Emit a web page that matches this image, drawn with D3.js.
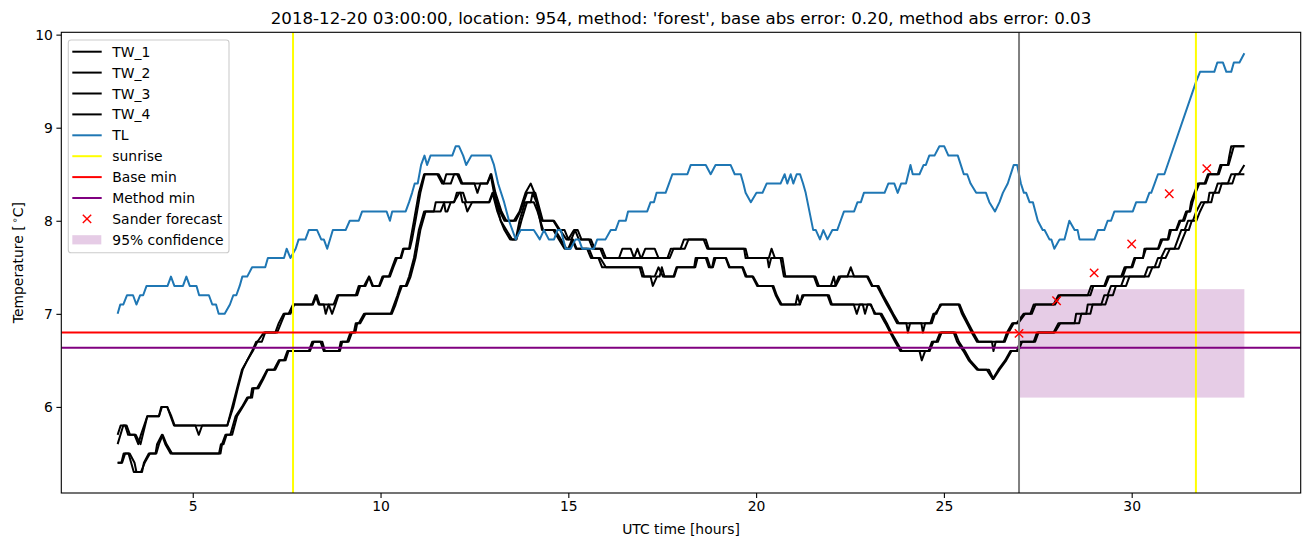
<!DOCTYPE html>
<html><head><meta charset="utf-8">
<script src="https://cdn.jsdelivr.net/npm/d3@7"></script>
<style>body{margin:0;background:#fff}svg{display:block}text{font-family:"DejaVu Sans",sans-serif;fill:#000}</style>
</head><body><svg id="c" width="1310" height="547"></svg>
<script>
// ---------- data (hour, °C) ----------
const tw1 = [[3.0,5.6],[3.15,5.8],[3.24,5.8],[3.33,5.7],[3.48,5.7],[3.61,5.6],[3.79,5.9],[4.1,5.9],[4.16,6.0],[4.32,6.0],[4.41,5.9],[4.5,5.8],[5.07,5.8],[5.16,5.7],[5.25,5.8],[5.92,5.8],[6.05,6.0],[6.18,6.2],[6.31,6.4],[6.45,6.5],[6.58,6.6],[6.69,6.7],[6.84,6.7],[6.93,6.8],[7.2,6.8],[7.29,6.9],[7.42,7.0],[7.55,7.0],[7.67,7.1],[8.18,7.1],[8.27,7.2],[8.35,7.1],[8.49,7.1],[8.54,7.0],[8.62,7.1],[8.75,7.1],[8.85,7.2],[9.34,7.2],[9.42,7.3],[9.56,7.3],[9.69,7.4],[9.78,7.3],[9.96,7.3],[10.05,7.4],[10.22,7.4],[10.31,7.5],[10.4,7.6],[10.53,7.6],[10.6,7.7],[10.76,7.7],[10.8,7.8],[10.89,8.0],[11.02,8.3],[11.16,8.5],[11.51,8.5],[11.64,8.4],[11.87,8.4],[11.96,8.5],[12.04,8.5],[12.15,8.4],[12.84,8.4],[12.93,8.5],[13.02,8.3],[13.18,8.1],[13.3,8.0],[13.55,8.0],[13.7,8.1],[13.86,8.3],[14.0,8.4],[14.1,8.3],[14.3,8.0],[14.6,8.0],[14.75,7.9],[14.9,7.9],[15.0,7.8],[15.15,7.9],[15.25,7.9],[15.35,7.8],[15.55,7.8],[15.65,7.7],[15.85,7.7],[15.95,7.6],[16.35,7.6],[16.44,7.7],[16.66,7.7],[16.75,7.6],[16.84,7.7],[16.93,7.6],[17.64,7.6],[17.73,7.7],[17.99,7.7],[18.08,7.8],[18.66,7.8],[18.74,7.7],[19.68,7.7],[19.72,7.6],[20.34,7.6],[20.41,7.7],[20.5,7.6],[20.65,7.6],[20.74,7.4],[21.54,7.4],[21.63,7.3],[21.99,7.3],[22.07,7.4],[22.12,7.3],[22.25,7.4],[22.43,7.4],[22.52,7.5],[22.61,7.4],[22.95,7.4],[23.08,7.3],[23.22,7.3],[23.35,7.2],[23.48,7.1],[23.62,7.0],[23.75,6.9],[24.0,6.9],[24.04,6.8],[24.1,6.9],[24.4,6.9],[24.44,6.8],[24.5,6.9],[24.64,6.9],[24.72,7.0],[24.8,7.0],[24.9,7.1],[25.39,7.1],[25.48,7.0],[25.61,6.9],[25.74,6.8],[25.88,6.7],[26.28,6.7],[26.32,6.6],[26.38,6.7],[26.59,6.7],[26.68,6.8],[26.82,6.9],[26.94,6.9],[27.12,7.0],[27.3,7.0],[27.39,7.1],[27.92,7.1],[28.05,7.2],[28.83,7.2],[28.92,7.3],[29.27,7.3],[29.36,7.4],[29.72,7.4],[29.81,7.5],[29.99,7.5],[30.07,7.6],[30.3,7.6],[30.34,7.7],[30.7,7.7],[30.78,7.8],[30.96,7.8],[31.01,7.9],[31.18,7.9],[31.27,8.0],[31.36,8.0],[31.45,8.1],[31.54,8.1],[31.58,8.2],[31.67,8.3],[31.76,8.4],[31.94,8.4],[32.03,8.5],[32.29,8.5],[32.36,8.6],[32.56,8.6],[32.6,8.7],[32.65,8.8],[33.0,8.8]];
const tw2 = [[3.0,5.7],[3.08,5.8],[3.2,5.8],[3.28,5.7],[3.45,5.7],[3.55,5.6],[3.62,5.7],[3.79,5.9],[4.1,5.9],[4.18,6.0],[4.32,6.0],[4.43,5.9],[4.52,5.8],[5.92,5.8],[6.08,6.0],[6.2,6.2],[6.33,6.4],[6.45,6.5],[6.6,6.6],[6.72,6.7],[6.9,6.8],[7.25,6.8],[7.35,6.9],[7.45,7.0],[7.6,7.0],[7.7,7.1],[8.2,7.1],[8.3,7.2],[8.38,7.1],[8.62,7.1],[8.71,7.0],[8.8,7.1],[8.88,7.2],[9.38,7.2],[9.46,7.3],[9.6,7.3],[9.7,7.4],[9.8,7.3],[9.98,7.3],[10.08,7.4],[10.25,7.4],[10.34,7.5],[10.44,7.6],[10.55,7.6],[10.62,7.7],[10.78,7.7],[10.84,7.8],[10.93,8.0],[11.06,8.3],[11.18,8.5],[11.55,8.5],[11.68,8.4],[11.75,8.5],[12.08,8.5],[12.18,8.4],[12.5,8.4],[12.58,8.3],[12.66,8.4],[12.84,8.4],[12.95,8.5],[13.06,8.3],[13.22,8.1],[13.35,8.0],[13.6,8.0],[13.72,8.1],[13.9,8.3],[14.12,8.3],[14.32,8.0],[14.62,8.0],[14.78,7.9],[14.95,7.8],[15.08,7.8],[15.18,7.9],[15.28,7.8],[15.6,7.8],[15.7,7.7],[15.9,7.7],[16.0,7.6],[16.95,7.6],[17.05,7.7],[17.3,7.7],[17.4,7.6],[17.7,7.6],[17.8,7.7],[18.1,7.7],[18.2,7.8],[18.6,7.8],[18.7,7.7],[19.72,7.7],[19.78,7.6],[20.3,7.6],[20.34,7.5],[20.4,7.6],[20.7,7.6],[20.78,7.4],[21.58,7.4],[21.67,7.3],[22.1,7.3],[22.2,7.4],[22.98,7.4],[23.1,7.3],[23.26,7.3],[23.38,7.2],[23.52,7.1],[23.65,7.0],[23.8,6.9],[24.68,6.9],[24.76,7.0],[24.94,7.1],[25.42,7.1],[25.52,7.0],[25.65,6.9],[25.78,6.8],[25.92,6.7],[26.62,6.7],[26.72,6.8],[26.86,6.9],[26.98,6.9],[27.16,7.0],[27.34,7.0],[27.44,7.1],[27.96,7.1],[28.1,7.2],[28.9,7.2],[28.98,7.3],[29.3,7.3],[29.4,7.4],[29.76,7.4],[29.85,7.5],[30.02,7.5],[30.1,7.6],[30.3,7.6],[30.38,7.7],[30.72,7.7],[30.82,7.8],[30.98,7.8],[31.05,7.9],[31.2,7.9],[31.3,8.0],[31.4,8.0],[31.48,8.1],[31.56,8.1],[31.62,8.2],[31.7,8.3],[31.8,8.4],[31.97,8.4],[32.06,8.5],[32.32,8.5],[32.4,8.6],[32.58,8.6],[32.65,8.7],[32.72,8.8],[33.0,8.8]];
const tw3 = [[3.0,5.4],[3.1,5.4],[3.16,5.5],[3.29,5.5],[3.43,5.3],[3.65,5.3],[3.7,5.4],[3.83,5.5],[4.01,5.5],[4.05,5.6],[4.18,5.7],[4.27,5.6],[4.41,5.5],[5.74,5.5],[5.78,5.6],[5.87,5.7],[6.0,5.7],[6.14,5.9],[6.31,6.0],[6.45,6.1],[6.54,6.1],[6.58,6.2],[6.71,6.2],[6.85,6.3],[6.98,6.4],[7.16,6.4],[7.29,6.5],[7.43,6.5],[7.52,6.6],[8.09,6.6],[8.18,6.7],[8.4,6.7],[8.49,6.6],[8.89,6.6],[8.94,6.7],[9.11,6.7],[9.2,6.8],[9.29,6.8],[9.34,6.9],[9.42,6.9],[9.56,7.0],[10.27,7.0],[10.36,7.1],[10.45,7.2],[10.53,7.3],[10.67,7.3],[10.76,7.4],[10.89,7.6],[11.02,7.9],[11.16,8.1],[11.42,8.1],[11.47,8.2],[11.69,8.2],[11.73,8.1],[11.78,8.1],[11.87,8.2],[11.96,8.2],[12.03,8.3],[12.13,8.3],[12.18,8.2],[12.24,8.2],[12.31,8.1],[12.44,8.2],[12.89,8.2],[12.98,8.3],[13.11,8.1],[13.2,8.0],[13.3,7.9],[13.45,7.8],[13.6,7.8],[13.7,8.0],[13.85,8.2],[14.0,8.2],[14.05,8.3],[14.15,8.2],[14.3,7.9],[14.6,7.9],[14.75,7.8],[14.9,7.7],[15.0,7.7],[15.1,7.8],[15.2,7.7],[15.5,7.7],[15.6,7.6],[15.85,7.6],[16.0,7.5],[16.9,7.5],[16.97,7.4],[17.19,7.4],[17.25,7.3],[17.36,7.4],[17.43,7.4],[17.49,7.5],[17.56,7.4],[17.82,7.4],[17.9,7.5],[18.35,7.5],[18.39,7.6],[18.66,7.6],[18.74,7.5],[18.83,7.5],[18.88,7.6],[19.19,7.6],[19.28,7.5],[19.63,7.5],[19.72,7.4],[19.9,7.4],[20.03,7.3],[20.43,7.3],[20.52,7.2],[20.65,7.1],[21.05,7.1],[21.1,7.2],[21.17,7.1],[21.23,7.2],[21.9,7.2],[21.99,7.1],[22.6,7.1],[22.68,7.0],[22.76,7.1],[22.84,7.1],[22.9,7.0],[22.97,7.1],[23.06,7.1],[23.15,7.0],[23.3,7.0],[23.44,6.9],[23.57,6.8],[23.7,6.7],[23.84,6.6],[24.35,6.6],[24.41,6.5],[24.5,6.6],[24.59,6.6],[24.68,6.7],[24.8,6.7],[24.9,6.8],[25.26,6.8],[25.35,6.7],[25.52,6.6],[25.66,6.5],[25.88,6.4],[26.14,6.4],[26.3,6.3],[26.45,6.4],[26.63,6.5],[26.77,6.6],[26.94,6.6],[27.03,6.7],[27.39,6.7],[27.48,6.8],[27.92,6.8],[28.05,6.9],[28.48,6.9],[28.52,7.0],[28.79,7.0],[28.83,7.1],[29.19,7.1],[29.27,7.2],[29.36,7.2],[29.45,7.3],[29.72,7.3],[29.81,7.4],[30.34,7.4],[30.43,7.5],[30.61,7.5],[30.7,7.6],[30.78,7.6],[30.9,7.7],[31.14,7.7],[31.23,7.8],[31.32,7.9],[31.41,7.9],[31.5,8.0],[31.63,8.0],[31.72,8.1],[31.85,8.2],[32.03,8.2],[32.07,8.3],[32.21,8.3],[32.29,8.4],[32.56,8.4],[32.65,8.5],[32.85,8.5],[33.0,8.6]];
const tw4 = [[3.0,5.4],[3.12,5.4],[3.2,5.5],[3.32,5.5],[3.45,5.4],[3.5,5.3],[3.62,5.3],[3.72,5.4],[3.86,5.5],[4.03,5.5],[4.1,5.6],[4.2,5.7],[4.3,5.6],[4.45,5.5],[5.7,5.5],[5.75,5.6],[5.82,5.6],[5.9,5.7],[6.05,5.7],[6.18,5.9],[6.33,6.0],[6.48,6.1],[6.58,6.1],[6.62,6.2],[6.75,6.2],[6.88,6.3],[7.0,6.4],[7.2,6.4],[7.32,6.5],[7.47,6.5],[7.55,6.6],[8.12,6.6],[8.22,6.7],[8.45,6.7],[8.52,6.6],[8.92,6.6],[8.98,6.7],[9.15,6.7],[9.24,6.8],[9.33,6.8],[9.38,6.9],[9.46,6.9],[9.6,7.0],[10.3,7.0],[10.4,7.1],[10.48,7.2],[10.57,7.3],[10.7,7.3],[10.8,7.4],[10.93,7.6],[11.06,7.9],[11.2,8.1],[11.6,8.1],[11.7,8.2],[11.95,8.2],[12.1,8.3],[12.2,8.3],[12.28,8.2],[12.9,8.2],[13.0,8.3],[13.08,8.2],[13.2,8.0],[13.35,7.9],[13.5,7.8],[13.62,7.8],[13.75,8.0],[13.9,8.2],[14.08,8.2],[14.18,8.1],[14.33,7.9],[14.65,7.9],[14.8,7.8],[14.95,7.7],[15.05,7.7],[15.12,7.8],[15.22,7.7],[15.55,7.7],[15.65,7.6],[15.8,7.6],[15.9,7.5],[16.95,7.5],[17.02,7.4],[17.3,7.4],[17.4,7.5],[17.52,7.4],[17.8,7.4],[17.88,7.5],[18.38,7.5],[18.44,7.6],[18.7,7.6],[18.78,7.5],[18.85,7.5],[18.92,7.6],[19.2,7.6],[19.3,7.5],[19.65,7.5],[19.75,7.4],[19.92,7.4],[20.06,7.3],[20.46,7.3],[20.55,7.2],[20.68,7.1],[21.15,7.1],[21.27,7.2],[21.94,7.2],[22.02,7.1],[22.96,7.1],[23.04,7.1],[23.18,7.0],[23.34,7.0],[23.48,6.9],[23.6,6.8],[23.74,6.7],[23.88,6.6],[24.62,6.6],[24.72,6.7],[24.84,6.7],[24.94,6.8],[25.3,6.8],[25.4,6.7],[25.56,6.6],[25.7,6.5],[25.92,6.4],[26.2,6.4],[26.32,6.3],[26.48,6.4],[26.66,6.5],[26.8,6.6],[26.98,6.6],[27.08,6.7],[27.43,6.7],[27.52,6.8],[27.95,6.8],[28.1,6.9],[28.6,6.9],[28.66,7.0],[28.9,7.0],[28.96,7.1],[29.3,7.1],[29.38,7.2],[29.5,7.2],[29.58,7.3],[29.85,7.3],[29.94,7.4],[30.45,7.4],[30.55,7.5],[30.72,7.5],[30.8,7.6],[30.9,7.6],[31.02,7.7],[31.25,7.7],[31.35,7.8],[31.45,7.9],[31.52,7.9],[31.6,8.0],[31.72,8.0],[31.82,8.1],[31.94,8.2],[32.12,8.2],[32.18,8.3],[32.32,8.3],[32.4,8.4],[32.68,8.4],[32.76,8.5],[33.0,8.5]];
const tl = [[3.0,7.0],[3.07,7.1],[3.15,7.1],[3.25,7.2],[3.41,7.2],[3.5,7.1],[3.6,7.2],[3.68,7.2],[3.77,7.3],[4.33,7.3],[4.42,7.4],[4.51,7.3],[4.74,7.3],[4.83,7.4],[4.92,7.3],[5.1,7.3],[5.17,7.2],[5.43,7.2],[5.52,7.1],[5.62,7.1],[5.69,7.0],[5.85,7.0],[5.99,7.1],[6.08,7.2],[6.16,7.2],[6.25,7.3],[6.32,7.4],[6.45,7.4],[6.58,7.5],[6.93,7.5],[7.0,7.6],[7.43,7.6],[7.5,7.7],[7.6,7.6],[7.74,7.7],[7.82,7.8],[8.0,7.8],[8.09,7.9],[8.31,7.9],[8.42,7.8],[8.49,7.8],[8.58,7.7],[8.73,7.9],[9.07,7.9],[9.18,8.0],[9.42,8.0],[9.51,8.1],[10.16,8.1],[10.25,8.0],[10.31,8.1],[10.67,8.1],[10.76,8.2],[10.84,8.3],[10.91,8.4],[10.99,8.4],[11.08,8.6],[11.17,8.7],[11.24,8.6],[11.33,8.7],[11.91,8.7],[12.0,8.8],[12.09,8.8],[12.2,8.7],[12.28,8.6],[12.42,8.7],[12.93,8.7],[13.02,8.6],[13.13,8.4],[13.29,8.2],[13.42,8.0],[13.6,7.8],[13.73,7.9],[14.08,7.9],[14.24,7.8],[14.35,7.9],[14.48,7.8],[14.62,7.8],[14.71,7.9],[14.8,7.9],[14.93,7.7],[15.06,7.7],[15.19,7.8],[15.28,7.8],[15.37,7.7],[15.68,7.7],[15.77,7.8],[15.99,7.8],[16.13,7.9],[16.26,7.9],[16.35,8.0],[16.53,8.0],[16.59,8.1],[17.1,8.1],[17.19,8.2],[17.28,8.2],[17.35,8.3],[17.59,8.3],[17.68,8.4],[17.77,8.5],[18.17,8.5],[18.26,8.6],[18.66,8.6],[18.79,8.5],[18.92,8.6],[19.32,8.6],[19.43,8.5],[19.59,8.5],[19.66,8.4],[19.72,8.3],[19.86,8.2],[20.01,8.3],[20.17,8.3],[20.28,8.4],[20.65,8.4],[20.76,8.5],[20.83,8.4],[20.92,8.5],[20.99,8.4],[21.08,8.5],[21.17,8.5],[21.25,8.4],[21.32,8.3],[21.52,7.9],[21.59,7.9],[21.7,7.8],[21.79,7.9],[21.9,7.8],[22.03,7.9],[22.16,7.9],[22.25,8.0],[22.34,8.1],[22.61,8.1],[22.7,8.2],[22.79,8.2],[22.87,8.3],[23.42,8.3],[23.52,8.4],[23.68,8.4],[23.77,8.3],[23.86,8.4],[23.99,8.4],[24.11,8.6],[24.17,8.5],[24.35,8.5],[24.46,8.6],[24.52,8.6],[24.61,8.7],[24.75,8.7],[24.88,8.8],[25.01,8.8],[25.12,8.7],[25.37,8.7],[25.45,8.6],[25.53,8.5],[25.62,8.5],[25.71,8.4],[25.86,8.3],[26.12,8.3],[26.21,8.2],[26.36,8.1],[26.48,8.2],[26.57,8.3],[26.7,8.4],[26.86,8.6],[26.95,8.6],[27.05,8.4],[27.13,8.3],[27.19,8.3],[27.28,8.2],[27.37,8.2],[27.5,8.0],[27.63,7.9],[27.68,7.9],[27.81,7.8],[27.86,7.8],[27.94,7.7],[28.08,7.8],[28.21,7.8],[28.34,8.0],[28.48,7.9],[28.56,7.9],[28.61,7.8],[29.01,7.8],[29.1,7.9],[29.27,7.9],[29.36,8.0],[29.45,8.0],[29.54,8.1],[30.03,8.1],[30.12,8.2],[30.38,8.2],[30.47,8.3],[30.52,8.3],[30.61,8.4],[30.7,8.5],[30.87,8.5],[31.72,9.5],[31.82,9.6],[32.2,9.6],[32.28,9.7],[32.43,9.7],[32.52,9.6],[32.65,9.6],[32.72,9.7],[32.87,9.7],[33.0,9.8]];
const sunriseHours = [7.67, 31.71];
const baseMin = 6.8;
const methodMin = 6.635;
const forecastStartHour = 27.0;
const sanderHours = [27, 28, 29, 30, 31, 32];
const sanderValues = [6.79, 7.14, 7.44, 7.75, 8.29, 8.56];
const confHours = [27.0, 33.0];
const confLow = 6.1, confHigh = 7.265;
const xTicks = [5, 10, 15, 20, 25, 30];
const yTicks = [6, 7, 8, 9, 10];
const titleText = "2018-12-20 03:00:00, location: 954, method: 'forest', base abs error: 0.20, method abs error: 0.03";

// ---------- layout ----------
const L = 61.3, R = 1300.7, T = 32.3, B = 493;
const svg = d3.select("#c");
const x = d3.scaleLinear().domain([1.5, 34.5]).range([L, R]);
const y = d3.scaleLinear().domain([5.075, 10.025]).range([B, T]);
const LW = 2.0;

svg.append("defs").append("clipPath").attr("id","clip")
  .append("rect").attr("x",L).attr("y",T).attr("width",R-L).attr("height",B-T);
const g = svg.append("g").attr("clip-path","url(#clip)");

// confidence band (patch, below lines)
g.append("rect")
  .attr("x", x(confHours[0])).attr("width", x(confHours[1]) - x(confHours[0]))
  .attr("y", y(confHigh)).attr("height", y(confLow) - y(confHigh))
  .attr("fill", "purple").attr("fill-opacity", 0.2);

const line = d3.line().x(d => x(d[0])).y(d => y(d[1]));
[tw1, tw2, tw3, tw4].forEach(s => {
  g.append("path").attr("d", line(s)).attr("fill","none")
    .attr("stroke","black").attr("stroke-width",LW).attr("stroke-linejoin","round");
});
g.append("path").attr("d", line(tl)).attr("fill","none")
  .attr("stroke","#1f77b4").attr("stroke-width",LW).attr("stroke-linejoin","round");

sunriseHours.forEach(h => {
  g.append("line").attr("x1",x(h)).attr("x2",x(h)).attr("y1",T).attr("y2",B)
    .attr("stroke","yellow").attr("stroke-width",LW);
});
g.append("line").attr("x1",L).attr("x2",R).attr("y1",y(baseMin)).attr("y2",y(baseMin))
  .attr("stroke","red").attr("stroke-width",LW);
g.append("line").attr("x1",L).attr("x2",R).attr("y1",y(methodMin)).attr("y2",y(methodMin))
  .attr("stroke","purple").attr("stroke-width",LW);
g.append("line").attr("x1",x(forecastStartHour)).attr("x2",x(forecastStartHour)).attr("y1",T).attr("y2",B)
  .attr("stroke","grey").attr("stroke-width",LW);

function xMark(sel, cx, cy, r) {
  sel.append("path").attr("d", `M${cx-r},${cy-r}L${cx+r},${cy+r}M${cx-r},${cy+r}L${cx+r},${cy-r}`)
    .attr("stroke","red").attr("stroke-width",1.4).attr("fill","none");
}
sanderHours.forEach((h,i) => xMark(g, x(h), y(sanderValues[i]), 4.2));

// ---------- axes ----------
const xa = svg.append("g").attr("transform",`translate(0,${B})`)
  .call(d3.axisBottom(x).tickValues(xTicks).tickSize(4.9).tickPadding(3.5).tickFormat(d3.format("d")));
const ya = svg.append("g").attr("transform",`translate(${L},0)`)
  .call(d3.axisLeft(y).tickValues(yTicks).tickSize(4.9).tickPadding(3.5).tickFormat(d3.format("d")));
[xa, ya].forEach(a => {
  a.select(".domain").remove();
  a.selectAll("line").attr("stroke","black").attr("stroke-width",1.1);
  a.selectAll("text").attr("font-size","13.9px").attr("font-family","DejaVu Sans").attr("fill","black");
});
svg.append("rect").attr("x",L).attr("y",T).attr("width",R-L).attr("height",B-T)
  .attr("fill","none").attr("stroke","black").attr("stroke-width",1.1);

svg.append("text").attr("x",(L+R)/2).attr("y",24).attr("text-anchor","middle")
  .attr("font-size","16.67px").text(titleText);
svg.append("text").attr("x",(L+R)/2).attr("y",534).attr("text-anchor","middle")
  .attr("font-size","13.9px").text("UTC time [hours]");
const yl = svg.append("text").attr("transform",`translate(23,${(T+B)/2}) rotate(-90)`)
  .attr("text-anchor","middle").attr("font-size","13.9px");
yl.append("tspan").text("Temperature [");
yl.append("tspan").attr("font-size","9.7px").attr("dx","2").attr("dy","-5").text("\u2218");
yl.append("tspan").attr("dy","5").text("C]");

// ---------- legend ----------
const lg = svg.append("g");
lg.append("rect").attr("x",68.3).attr("y",40).attr("width",160.7).attr("height",212.7)
  .attr("rx",2.8).attr("fill","white").attr("fill-opacity",0.8).attr("stroke","#cccccc").attr("stroke-width",1.1);
const legendItems = [
  {label:"TW_1", type:"line", color:"black"},
  {label:"TW_2", type:"line", color:"black"},
  {label:"TW_3", type:"line", color:"black"},
  {label:"TW_4", type:"line", color:"black"},
  {label:"TL", type:"line", color:"#1f77b4"},
  {label:"sunrise", type:"line", color:"yellow"},
  {label:"Base min", type:"line", color:"red"},
  {label:"Method min", type:"line", color:"purple"},
  {label:"Sander forecast", type:"marker", color:"red"},
  {label:"95% confidence", type:"patch", color:"purple"}
];
legendItems.forEach((it, i) => {
  const cy = 51.7 + i * 20.9;
  if (it.type === "line") {
    lg.append("line").attr("x1",72.3).attr("x2",101.7).attr("y1",cy).attr("y2",cy)
      .attr("stroke",it.color).attr("stroke-width",LW);
  } else if (it.type === "marker") {
    xMark(lg, 87, cy, 4.2);
  } else {
    lg.append("rect").attr("x",72.3).attr("y",cy-4.6).attr("width",29).attr("height",9.2)
      .attr("fill",it.color).attr("fill-opacity",0.2);
  }
  lg.append("text").attr("x",112.3).attr("y",cy+5).attr("font-size","13.9px").text(it.label);
});
</script></body></html>
